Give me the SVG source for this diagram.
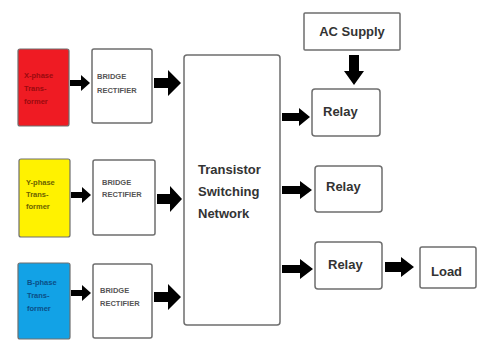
<svg xmlns="http://www.w3.org/2000/svg" width="477" height="343" viewBox="0 0 477 343">
<style>
.box{fill:#fff;stroke:#6e6e6e;stroke-width:1.5}
.ph{stroke:#6e6e6e;stroke-width:1.2}
.big{font-family:"Liberation Sans",Arial,sans-serif;font-weight:bold;font-size:13px;fill:#333}
.sm{font-family:"Liberation Sans",Arial,sans-serif;font-weight:bold;font-size:7.5px}
.br{font-family:"Liberation Sans",Arial,sans-serif;font-size:7.5px;fill:#555;font-weight:bold}
.arr{fill:#000}
</style>
<rect width="477" height="343" fill="#fff"/>
<g id="x-phase">
<rect class="ph" x="18" y="49" width="51" height="77" rx="2" fill="#ef1b23"/>
<text class="sm" fill="#9a0a0e" x="24" y="78">X-phase</text>
<text class="sm" fill="#9a0a0e" x="24" y="91">Trans-</text>
<text class="sm" fill="#9a0a0e" x="24" y="104">former</text>
</g>
<g id="y-phase">
<rect class="ph" x="19" y="159" width="51" height="78" rx="2" fill="#fff200"/>
<text class="sm" fill="#6b6200" x="26" y="185">Y-phase</text>
<text class="sm" fill="#6b6200" x="26" y="197">Trans-</text>
<text class="sm" fill="#6b6200" x="26" y="209">former</text>
</g>
<g id="b-phase">
<rect class="ph" x="18" y="263" width="52" height="76" rx="2" fill="#12a2e6"/>
<text class="sm" fill="#0b4f86" x="27" y="285">B-phase</text>
<text class="sm" fill="#0b4f86" x="27" y="298">Trans-</text>
<text class="sm" fill="#0b4f86" x="27" y="311">former</text>
</g>
<g id="bridge1">
<rect class="box" x="92" y="49" width="60" height="74" rx="2"/>
<text class="br" x="97" y="79">BRIDGE</text>
<text class="br" x="97" y="93">RECTIFIER</text>
</g>
<g id="bridge2">
<rect class="box" x="93" y="160" width="62" height="75" rx="2"/>
<text class="br" x="102" y="185">BRIDGE</text>
<text class="br" x="102" y="197">RECTIFIER</text>
</g>
<g id="bridge3">
<rect class="box" x="93" y="264" width="59" height="74" rx="2"/>
<text class="br" x="100" y="293">BRIDGE</text>
<text class="br" x="100" y="306">RECTIFIER</text>
</g>
<g id="tsn">
<rect class="box" x="184" y="55" width="96" height="270" rx="3"/>
<text class="big" x="198" y="174">Transistor</text>
<text class="big" x="198" y="196">Switching</text>
<text class="big" x="198" y="218">Network</text>
</g>
<g id="ac-supply">
<rect class="box" x="304" y="13" width="96" height="37" rx="1"/>
<text class="big" x="352" y="36" text-anchor="middle">AC Supply</text>
</g>
<g id="relay1">
<rect class="box" x="312" y="89" width="68" height="47" rx="3"/>
<text class="big" x="323" y="116">Relay</text>
</g>
<g id="relay2">
<rect class="box" x="315" y="166" width="67" height="46" rx="3"/>
<text class="big" x="326" y="191">Relay</text>
</g>
<g id="relay3">
<rect class="box" x="315" y="242" width="67" height="47" rx="3"/>
<text class="big" x="328" y="269">Relay</text>
</g>
<g id="load">
<rect class="box" x="420" y="247" width="56" height="41" rx="2"/>
<text class="big" x="431" y="276">Load</text>
</g>
<g id="connectors">
<polygon class="arr" points="70,80 81,80 81,75 90,83 81,91 81,86 70,86"/>
<polygon class="arr" points="71,192 82,192 82,187 91,195 82,203 82,198 71,198"/>
<polygon class="arr" points="71,290 82,290 82,285 91,293 82,301 82,296 71,296"/>
<polygon class="arr" points="154,78 168,78 168,70 181,83 168,96 168,88 154,88"/>
<polygon class="arr" points="157,194 170,194 170,186 182,199 170,212 170,204 157,204"/>
<polygon class="arr" points="154,292 168,292 168,284 181,297 168,310 168,302 154,302"/>
<polygon class="arr" points="282,113 299,113 299,108 310,117 299,126 299,121 282,121"/>
<polygon class="arr" points="282,186 300,186 300,181 312,190 300,199 300,194 282,194"/>
<polygon class="arr" points="282,265 300,265 300,259 313,269 300,279 300,273 282,273"/>
<polygon class="arr" points="349,55 359,55 359,71 364,71 354,85 344,71 349,71"/>
<polygon class="arr" points="385,262 401,262 401,257 414,267 401,277 401,272 385,272"/>
</g>
</svg>
